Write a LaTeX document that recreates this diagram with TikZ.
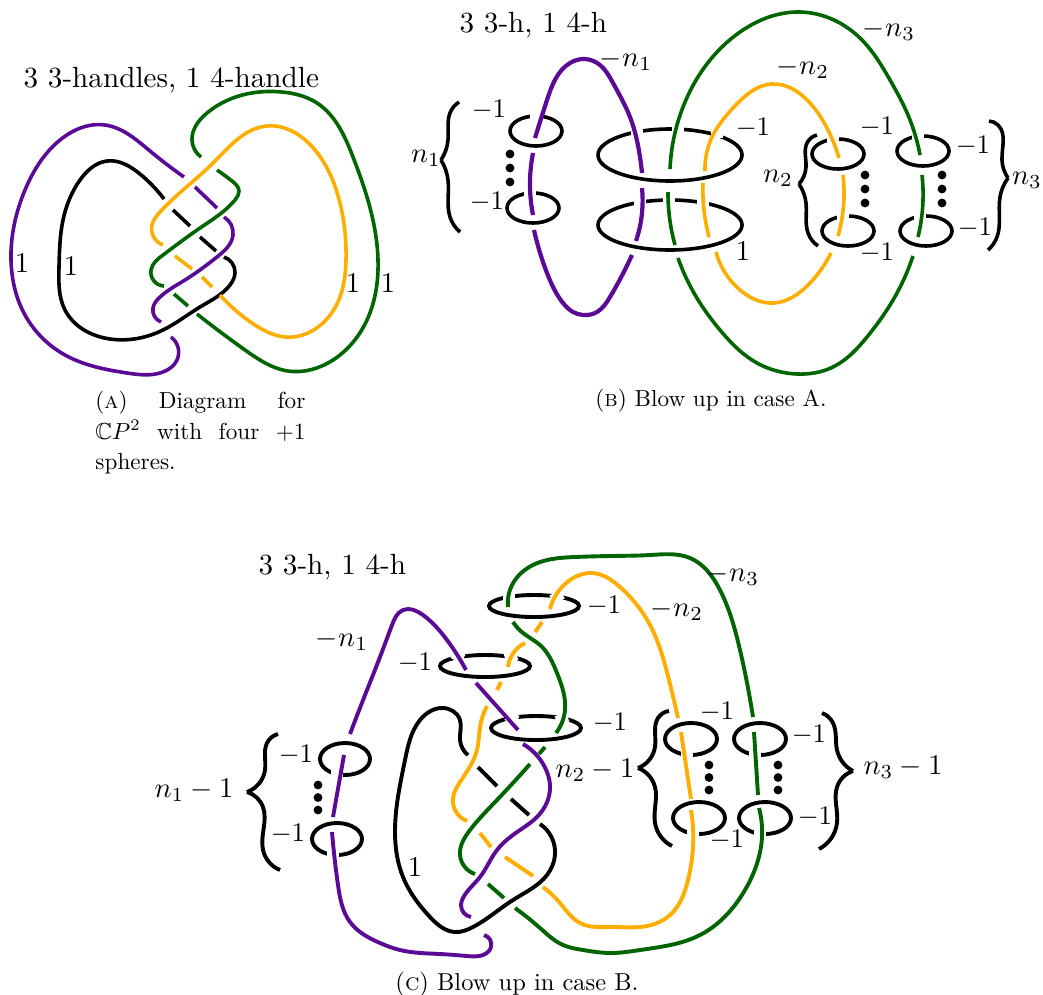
\documentclass[tikz,border=0pt]{standalone}
\usepackage{amssymb}
\usetikzlibrary{hobby}
\definecolor{kpurple}{HTML}{5B0A96}
\definecolor{kgreen}{HTML}{006400}
\definecolor{korange}{HTML}{FFAE00}
\newcommand\sm[2]{\draw[#1] plot[hobby] coordinates {#2};}
\newcommand\gapat[3]{\draw[gapmark,rotate around={#3:(#1,#2)}] (#1,#2-5) -- (#1,#2+5);}
\newcommand\threedots[3]{\fill (#1,#2) circle (4.4) (#1,#2+#3) circle (4.4) (#1,#2+2*#3) circle (4.4);}
\def\lw{3.6pt}
\tikzset{
  pu/.style={draw=kpurple,line width=\lw},
  gr/.style={draw=kgreen,line width=\lw},
  orng/.style={draw=korange,line width=\lw},
  bk/.style={draw=black,line width=\lw},
  gapmark/.style={draw=white,line width=12pt},
  lab/.style={inner sep=0pt,scale=2.68},
  labn/.style={inner sep=0pt,scale=2.85},
  ttl/.style={inner sep=0pt,scale=2.92},
  capt/.style={inner sep=0pt,scale=2.32},
}
\begin{document}
\begin{tikzpicture}[x=1pt,y=-1pt]
\path[use as bounding box] (0,0) rectangle (1043,994);
% ---------- A knot
\sm{pu}{(184,177) (150,151) (105,125) (60,140) (25,190) (11,260) (25,315) (65,355) (127,373) (163,372) (177,360) (171,337)}
\draw[pu] (195,187) -- (217,208);
\sm{pu}{(224,217) (233,235) (217,257) (185,280) (160,297) (153,308) (161,322)}
\sm{bk}{(164,199) (140,174) (107,161) (80,180) (63,220) (59,267) (65,310) (110,339) (163,330) (200,307) (230,285) (235,273) (224,257)}
\draw[bk] (173,210) -- (190,226);
\draw[bk] (200,237) -- (216,251);
\sm{gr}{(201,157) (192,140) (207,113) (282,92) (317,103) (353,157) (378,260) (367,320) (333,360) (288,371) (245,350) (197,314)}
\draw[gr] (188,306) -- (174,294);
\sm{gr}{(164,286) (151,270) (163,255) (200,228) (235,200) (239,191) (232,181) (217,170)}
\sm{orng}{(163,245) (152,225) (160,212) (213,163) (267,126) (315,150) (340,203) (346,260) (340,297) (310,332) (285,337) (255,325) (220,295)}
\draw[orng] (212,287) -- (202,277);
\draw[orng] (192,269) -- (175,256);
% A labels
\node[labn] (a1) at (22,263) {1};
\node[labn] (a2) at (71,266) {1};
\node[labn] (a3) at (353,283) {1};
\node[labn] (a4) at (388,283) {1};
\node[ttl,anchor=west] (atitle) at (23,80) {3 3-handles, 1 4-handle};
\node[capt,anchor=north west,align=left] (acap) at (95,391) {\makebox[90.5pt][s]{(\textsc{a}) Diagram for}\\[1pt]\makebox[90.5pt][s]{$\mathbb{C}P^2$ with four $+1$}\\[1pt]spheres.};
% ---------- B rings
\draw[bk] (670,155) ellipse (72 and 26);
\draw[bk] (670,225) ellipse (72 and 25);
\draw[bk] (536,131) ellipse (26 and 15);
\draw[bk] (533,208) ellipse (26 and 15);
\draw[bk] (838,154) ellipse (26 and 15);
\draw[bk] (848,231) ellipse (26 and 15);
\draw[bk] (923,151) ellipse (26 and 15);
\draw[bk] (926,231) ellipse (26 and 15);
\gapat{637}{132}{0}\gapat{678}{129}{0}\gapat{717}{133}{0}
\gapat{640}{202}{0}\gapat{669}{200}{0}\gapat{703}{201}{0}
\gapat{536}{116}{0}\gapat{530}{193}{0}\gapat{833}{139}{0}\gapat{843}{216}{0}\gapat{918}{136}{0}\gapat{920}{216}{0}
% B strands
\def\lw{4.2pt}
\sm{pu}{(642,173) (640,157) (630,117) (613,83) (600,65) (585,59) (570,63) (547,100) (535,138)}
\sm{pu}{(533,153) (530,187) (533,215)}
\sm{pu}{(534,230) (547,273) (563,303) (573,312) (583,315) (597,312) (610,297) (632,255)}
\sm{pu}{(636,241) (642,213) (642,188)}
\def\lw{3.6pt}
\sm{gr}{(670,169) (683,107) (740,32) (800,12) (860,38) (890,80) (908,115) (920,155)}
\sm{gr}{(922,175) (923,200) (918,237)}
\sm{gr}{(913,256) (897,293) (867,337) (833,367) (797,374) (757,363) (720,330) (700,303) (678,258)}
\sm{gr}{(675,245) (669,213) (668,192)}
\sm{orng}{(705,171) (713,135) (733,108) (772,84) (810,103) (828,130) (839,158)}
\sm{orng}{(843,175) (844,197) (838,236)}
\sm{orng}{(831,253) (810,283) (774,303) (740,290) (716,252)}
\sm{orng}{(709,237) (703,197) (703,183)}
\threedots{510}{154}{14}\threedots{865}{175}{14}\threedots{942}{175}{14}
% B braces
\sm{bk}{(459,102) (450,113) (448,140) (441,160)}
\sm{bk}{(441,160) (448,180) (450,217) (460,232)}
\sm{bk}{(817,135) (807,143) (806,167) (799,184)}
\sm{bk}{(799,184) (806,203) (808,233) (818,246)}
\sm{bk}{(989,121) (998,125) (1002,160) (1008,178)}
\sm{bk}{(1008,178) (1000,197) (997,237) (988,250)}
% B labels
\node[ttl,anchor=west] (btitle) at (459,25) {3 3-h, 1 4-h};
\node[labn] (b1) at (626,60) {$-n_1$};
\node[labn] (b2) at (889,30) {$-n_3$};
\node[labn] (b3) at (803,68) {$-n_2$};
\node[lab] (b4) at (489,110) {$-1$};
\node[lab] (b5) at (487,202) {$-1$};
\node[labn] (b6) at (426,158) {$n_1$};
\node[lab] (b7) at (753,128) {$-1$};
\node[labn] (b8) at (743,251) {$1$};
\node[lab] (b9) at (877,127) {$-1$};
\node[lab] (b10) at (973,146) {$-1$};
\node[lab] (b11) at (975,228) {$-1$};
\node[lab] (b12) at (877,253) {$-1$};
\node[labn] (b13) at (778,178) {$n_2$};
\node[labn] (b14) at (1027,180) {$n_3$};
\node[capt,anchor=west] (bcap) at (595,401) {(\textsc{b}) Blow up in case A.};
% ---------- C rings
\def\lw{3.9pt}
\draw[bk] (534,606) ellipse (45 and 11);
\draw[bk] (485,666) ellipse (45 and 11);
\draw[bk] (536,728) ellipse (45 and 12);
\draw[bk] (345,759) ellipse (25 and 16);
\draw[bk] (337,839) ellipse (25 and 16);
\draw[bk] (691,739) ellipse (26 and 16);
\draw[bk] (699,818) ellipse (26 and 16);
\draw[bk] (760,739) ellipse (26 and 16);
\draw[bk] (765,818) ellipse (26 and 16);
\gapat{509}{595}{0}\gapat{557}{597}{30}
\gapat{458}{656}{-25}\gapat{511}{657}{20}
\gapat{512}{718}{-25}\gapat{562}{719}{20}
\gapat{337}{775}{0}\gapat{333}{855}{0}
\gapat{687}{755}{0}\gapat{693}{834}{0}\gapat{755}{755}{0}\gapat{760}{834}{0}
% C strands
\sm{gr}{(508,607) (512,585) (535,564) (575,557) (610,556) (650,555) (690,558) (720,590) (740,650) (753,717)}
\draw[gr] (754,732) -- (758,795);
\sm{gr}{(759,808) (762,837) (745,890) (700,935) (640,950) (610,953) (583,950) (563,945) (540,928) (515,908)}
\draw[gr] (504,898) -- (488,884);
\sm{gr}{(475,874) (460,855) (470,830) (497,800) (530,764)}
\draw[gr] (545,747) -- (539,754);
\sm{gr}{(556,733) (565,710) (557,673) (540,645) (523,633) (513,622)}
\sm{orng}{(550,609) (570,580) (592,573) (620,587) (650,625) (669,680) (678,718)}
\draw[orng] (681,732) -- (691,799);
\sm{orng}{(691,810) (693,847) (688,880) (670,915) (640,927) (613,927) (580,923) (560,903) (543,887)}
\draw[orng] (533,876) -- (505,857);
\draw[orng] (491,847) -- (480,833);
\sm{orng}{(467,821) (453,798) (460,782) (477,750) (480,727) (487,706)}
\draw[orng] (497,690) -- (501,682);
\sm{orng}{(508,667) (512,655) (525,643)}
\draw[orng] (535,632) -- (542,622);
\sm{bk}{(468,755) (460,740) (460,720) (443,708) (420,720) (405,760) (395,833) (403,877) (430,917) (455,932) (473,927) (513,900) (547,875) (555,855) (540,824)}
\draw[bk] (478,767) -- (497,786);
\draw[bk] (511,799) -- (529,815);
\sm{pu}{(350,734) (367,690) (380,657) (392,625) (403,610) (423,615) (447,640) (466,670)}
\sm{pu}{(476,683) (493,702) (518,730)}
\sm{pu}{(523,744) (547,772) (550,785) (537,817) (520,830) (497,850) (480,877) (463,898) (461,905) (471,917)}
\sm{pu}{(484,935) (491,947) (483,955) (467,956) (440,954) (400,950) (380,943) (350,922) (338,885) (332,832)}
\draw[pu] (344,755) -- (333,817);
\threedots{709}{765}{12.5}\threedots{778}{765}{12.5}\threedots{318}{785}{12.5}
% C braces
\sm{bk}{(669,711) (658,718) (655,747) (638,768)}
\sm{bk}{(638,768) (655,787) (655,823) (672,846)}
\sm{bk}{(822,713) (833,723) (837,750) (853,771)}
\sm{bk}{(853,771) (837,787) (837,823) (819,849)}
\sm{bk}{(278,734) (267,743) (265,770) (247,792)}
\sm{bk}{(247,792) (263,807) (263,850) (280,870)}
% C labels
\node[ttl,anchor=west] (ctitle) at (258,567) {3 3-h, 1 4-h};
\node[labn] (c1) at (733,575) {$-n_3$};
\node[labn] (c2) at (677,610) {$-n_2$};
\node[lab] (c3) at (604,606) {$-1$};
\node[lab] (c4) at (415,663) {$-1$};
\node[lab] (c5) at (610,723) {$-1$};
\node[labn] (c6) at (342,640) {$-n_1$};
\node[labn] (c7) at (595,770) {$n_2-1$};
\node[lab] (c8) at (717,712) {$-1$};
\node[lab] (c9) at (809,735) {$-1$};
\node[lab] (c10) at (727,840) {$-1$};
\node[lab] (c11) at (815,817) {$-1$};
\node[labn] (c12) at (903,767) {$n_3-1$};
\node[labn] (c13) at (194,790) {$n_1-1$};
\node[lab] (c14) at (296,755) {$-1$};
\node[lab] (c15) at (288,834) {$-1$};
\node[labn] (c16) at (415,867) {$1$};
\node[capt,anchor=west,scale=1.055] (ccap) at (395,984) {(\textsc{c}) Blow up in case B.};
\end{tikzpicture}
\end{document}
